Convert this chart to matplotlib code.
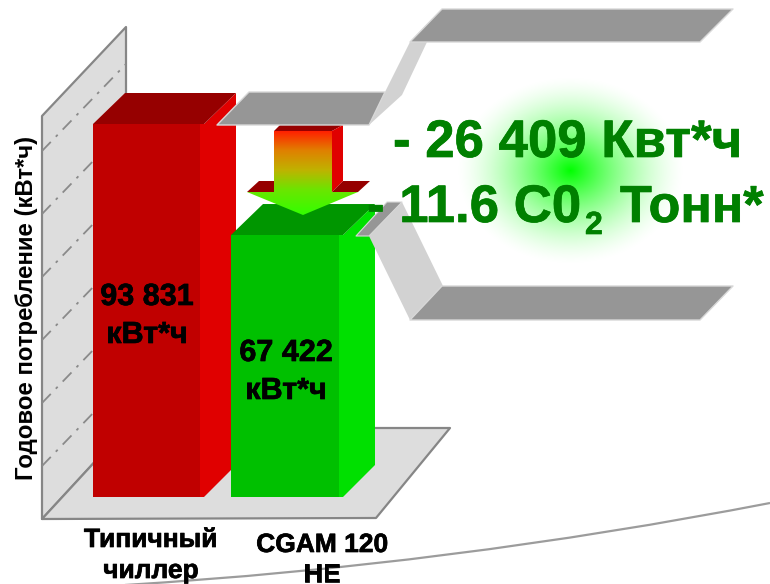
import numpy as np
import matplotlib
matplotlib.use("Agg")
import matplotlib.pyplot as plt
import matplotlib.patheffects as pe
from matplotlib.patches import Polygon, PathPatch
from matplotlib.path import Path

plt.rcParams['font.family'] = ['Liberation Sans', 'DejaVu Sans']

# ---- data ----
categories = ["Типичный\nчиллер", "CGAM 120\nHE"]
value_labels = ["93 831\nкВт*ч", "67 422\nкВт*ч"]
values = [93831, 67422]
drawn_heights = [93831, 65900]      # heights as actually drawn in the picture
ylabel = "Годовое потребление (кВт*ч)"
saving_line1 = "- 26 409 Квт*ч"
saving_line2 = ["- 11.6 C0", "2", "Тонн*"]
grid_levels = [1, 2, 3, 4, 5, 6]

# ---- style ----
W, H = 770, 584
RED = ("#C00000", "#E00000", "#960000")
GRN = ("#00C000", "#00E000", "#009600")
BAND = "#969696"
LIGHT = "#D2D2D2"
WALL = "#DDDDDD"
EDGE = "#868686"
TXT = "#008000"
BASE = 497
SCALE = 373 / 93831

fig = plt.figure(figsize=(W / 100, H / 100), dpi=100)
ax = fig.add_axes([0, 0, 1, 1])
ax.set_xlim(0, W)
ax.set_ylim(H, 0)
ax.axis("off")


def poly(pts, fc, ec="none", lw=0, z=2):
    ax.add_patch(Polygon(pts, closed=True, fc=fc, ec=ec, lw=lw, zorder=z, joinstyle="round"))


# wall & floor
poly([(42, 116), (126, 27), (126, 428), (42, 519)], WALL, EDGE, 1.6, 1)
poly([(42, 519), (126, 428), (450, 428), (376, 518)], WALL, EDGE, 1.6, 1)
for lv in grid_levels:
    y0 = 88 + 63 * lv
    ax.plot([42, 126], [y0, y0 - 87], color="#8A8A8A", lw=1.3,
            ls=(0, (7, 4, 1.5, 4)), zorder=1.5)


# bars
def bar(x0, x1, h, cols, z):
    top = BASE - h * SCALE
    poly([(x0, top), (x1, top), (x1, BASE), (x0, BASE)], cols[0], z=z + 0.2)
    poly([(x1, top), (x1 + 4, top), (x1 + 36, top - 31), (x1 + 36, BASE - 32),
          (x1 + 4, BASE), (x1, BASE)], cols[1], z=z)
    poly([(x0, top), (x0 + 32, top - 31), (x1 + 36, top - 31), (x1 + 4, top)], cols[2], z=z + 0.1)


bar(93, 200, drawn_heights[0], RED, 2)
bar(231, 339, drawn_heights[1], GRN, 3)

# arrow back parts
poly([(274, 131), (280, 125), (343, 125), (332, 131)], RED[2], z=4)
poly([(332, 131), (343, 125), (343, 181), (332, 192)], RED[1], z=4)
poly([(247, 192), (259, 181), (274, 181), (274, 192)], RED[2], z=4)
poly([(332, 192), (343, 181), (370, 181), (358, 192)], RED[2], z=4)

# arrow front gradient
ys = np.arange(131, 216)
stops_y = [131, 150, 170, 190, 215]
stops_rgb = np.array([[1, .13, 0], [.88, .5, 0], [.75, .7, 0], [.42, .9, 0], [.2, 1, 0]])
grad = np.stack([np.interp(ys, stops_y, stops_rgb[:, i]) for i in range(3)], axis=-1)[:, None, :]
im = ax.imshow(grad, extent=(247, 358, 215, 131), aspect="auto", zorder=4.5, interpolation="bilinear")
arrow_pts = [(274, 131), (332, 131), (332, 192), (358, 192), (303, 215), (247, 192), (274, 192)]
clip = Polygon(arrow_pts, closed=True, transform=ax.transData, fc="none", ec="none")
ax.add_patch(clip)
im.set_clip_path(clip)

# grey bands & connectors
poly([(217, 125), (249, 92), (385, 92), (369, 125)], BAND, "#D8D8D8", 1, 5)
poly([(369, 125), (385, 92), (410, 42), (427, 42), (402, 95)], LIGHT, z=4.8)
poly([(410, 42), (442, 9), (733, 9), (700, 42)], BAND, "#D8D8D8", 1, 5)
poly([(356, 236), (387, 202), (402, 202), (369, 236)], BAND, "#D8D8D8", 0.8, 5)
poly([(369, 236), (402, 202), (443, 286), (410, 320)], LIGHT, z=4.8)
poly([(410, 320), (442, 286), (733, 286), (700, 320)], BAND, "#D8D8D8", 1, 5)

# glow
yy, xx = np.mgrid[70:270, 450:690]
r = np.sqrt(((xx - 570) / 115.0) ** 2 + ((yy - 170) / 95.0) ** 2)
alpha = np.clip(1 - r, 0, 1) ** 1.5
rgba = np.zeros(r.shape + (4,))
rgba[..., 1] = 1.0
rgba[..., 3] = alpha
ax.imshow(rgba, extent=(450, 690, 270, 70), aspect="auto", zorder=4.6, interpolation="bilinear")
ax.set_xlim(0, W)
ax.set_ylim(H, 0)

# decorative curve
ax.add_patch(PathPatch(Path([(125, 585), (450, 565), (770, 503)], [Path.MOVETO, Path.CURVE3, Path.CURVE3]),
                       fc="none", ec="#9C9C9C", lw=1.6, zorder=1))

# text
bold = [pe.withStroke(linewidth=0.5, foreground="black")]
for cx, lab, ybl in zip([147, 286], value_labels, [(305, 343), (361, 399)]):
    for y, s in zip(ybl, lab.split("\n")):
        ax.text(cx, y, s, ha="center", va="baseline", fontsize=22, fontweight="bold", color="black",
                zorder=7, path_effects=bold)
for cx, lab, ybl in zip([151, 322], categories, [(547, 578), (552, 582)]):
    for y, s in zip(ybl, lab.split("\n")):
        ax.text(cx, y, s, ha="center", va="baseline", fontsize=19, fontweight="bold", color="black",
                zorder=7, path_effects=bold)
ax.text(27, 308, ylabel, rotation=90, ha="center", va="center", fontsize=17.3, fontweight="bold",
        color="black", zorder=7)

kw = dict(color=TXT, fontweight="bold", zorder=8, va="baseline",
          path_effects=[pe.withStroke(linewidth=0.5, foreground=TXT)])
ax.text(393, 157, saving_line1, ha="left", fontsize=38, **kw)
ax.text(581, 222, saving_line2[0], ha="right", fontsize=38, **kw)
ax.text(585, 234, saving_line2[1], ha="left", fontsize=23, **kw)
ax.text(620, 222, saving_line2[2], ha="left", fontsize=37.5, **kw)

fig.savefig("out.png", dpi=100)
